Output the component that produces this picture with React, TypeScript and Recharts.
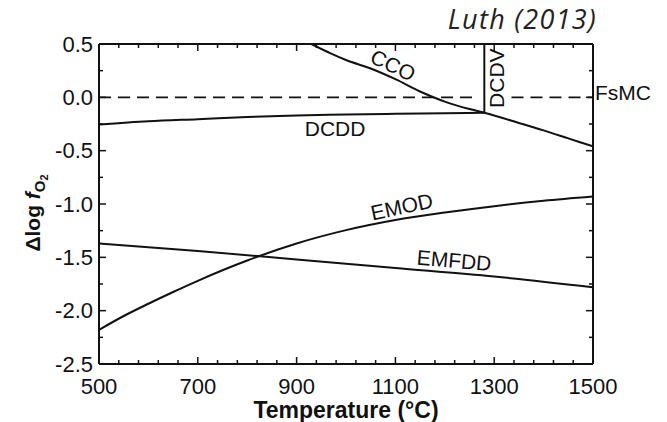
import { LineChart, Line, XAxis, YAxis, ReferenceDot } from "recharts";

const ccoT = [930, 970, 1000, 1050, 1100, 1150, 1200, 1250, 1280, 1350, 1400, 1450, 1500];
const ccoV = [0.5, 0.41, 0.35, 0.27, 0.17, 0.055, -0.04, -0.11, -0.145, -0.24, -0.31, -0.385, -0.46];

const dcddT = [500, 600, 700, 800, 900, 1000, 1100, 1200, 1280];
const dcddV = [-0.255, -0.225, -0.205, -0.185, -0.17, -0.162, -0.155, -0.15, -0.145];

const dcdvT = [1280, 1280];
const dcdvV = [-0.145, 0.5];

const fsmcLeftT = [500, 1262];
const fsmcRightT = [1335, 1500];
const fsmcV = [0, 0];

const emodT = [500, 550, 600, 650, 700, 800, 900, 1000, 1100, 1200, 1300, 1400, 1500];
const emodV = [-2.18, -2.05, -1.935, -1.825, -1.72, -1.53, -1.37, -1.245, -1.15, -1.08, -1.02, -0.97, -0.93];

const emfddT = [500, 700, 900, 1100, 1300, 1500];
const emfddV = [-1.37, -1.44, -1.52, -1.6, -1.68, -1.78];

const xTicks = [
  500, 540, 580, 620, 660, 700, 740, 780, 820, 860, 900, 940, 980, 1020, 1060,
  1100, 1140, 1180, 1220, 1260, 1300, 1340, 1380, 1420, 1460, 1500,
];
const xLabels = [500, 700, 900, 1100, 1300, 1500];
const yTicks = [0.5, 0.25, 0, -0.25, -0.5, -0.75, -1, -1.25, -1.5, -1.75, -2, -2.25, -2.5];
const yLabels = [0.5, 0, -0.5, -1, -1.5, -2, -2.5];

const FONT = "'Liberation Sans', Arial, Helvetica, sans-serif";
const INK = "#111";

const pts = (t: number[], v: number[]) => t.map((x, i) => ({ t: x, v: v[i] }));

const BottomTick = (props: any) => {
  const { x, y, payload } = props;
  const major = xLabels.includes(payload.value);
  return (
    <g>
      <line x1={x} y1={y} x2={x} y2={y - (major ? 7 : 4)} stroke={INK} strokeWidth={1.5} />
      {major && (
        <text x={x} y={y + 22} dy="0.35em" textAnchor="middle" fontFamily={FONT} fontSize={22} fill={INK}>
          {payload.value}
        </text>
      )}
    </g>
  );
};

const TopTick = (props: any) => {
  const { x, y, payload } = props;
  const major = xLabels.includes(payload.value);
  return <line x1={x} y1={y} x2={x} y2={y + (major ? 7 : 4)} stroke={INK} strokeWidth={1.5} />;
};

const LeftTick = (props: any) => {
  const { x, y, payload } = props;
  const major = yLabels.includes(payload.value);
  return (
    <g>
      <line x1={x} y1={y} x2={x + (major ? 7 : 4)} y2={y} stroke={INK} strokeWidth={1.5} />
      {major && (
        <text x={x - 6} y={y} dy="0.35em" textAnchor="end" fontFamily={FONT} fontSize={22} fill={INK}>
          {payload.value.toFixed(1)}
        </text>
      )}
    </g>
  );
};

const RightTick = (props: any) => {
  const { x, y, payload } = props;
  const major = yLabels.includes(payload.value);
  return <line x1={x} y1={y} x2={x - (major ? 7 : 4)} y2={y} stroke={INK} strokeWidth={1.5} />;
};

const curveTag =
  (text: string, angle: number, anchor = "middle", dx = 0, dy = 0) =>
  (props: any) => {
    const vb = props.viewBox ?? {};
    const cx = (vb.x ?? 0) + (vb.width ?? 0) / 2 + dx;
    const cy = (vb.y ?? 0) + (vb.height ?? 0) / 2 + dy;
    return (
      <text
        x={cx}
        y={cy}
        dy="0.35em"
        textAnchor={anchor}
        transform={`rotate(${angle} ${cx} ${cy})`}
        fontFamily={FONT}
        fontSize={21}
        fill={INK}
      >
        {text}
      </text>
    );
  };

const xTitle = (props: any) => {
  const vb = props.viewBox ?? {};
  return (
    <text
      x={vb.x + vb.width / 2}
      y={vb.y + 54}
      textAnchor="middle"
      fontFamily={FONT}
      fontWeight="bold"
      fontSize={23}
      fill={INK}
    >
      Temperature (°C)
    </text>
  );
};

const yTitle = (props: any) => {
  const vb = props.viewBox ?? {};
  const cx = vb.x + vb.width - 66;
  const cy = vb.y + vb.height / 2 + 9;
  return (
    <text
      x={cx}
      y={cy}
      dy="0.35em"
      textAnchor="middle"
      transform={`rotate(-90 ${cx} ${cy})`}
      fontFamily={FONT}
      fontWeight="bold"
      fontSize={21}
      fill={INK}
    >
      Δlog <tspan fontStyle="italic">f</tspan>
      <tspan dy={5} fontSize={15}>O</tspan>
      <tspan dy={3} fontSize={11}>2</tspan>
    </text>
  );
};

const source = (props: any) => {
  const vb = props.viewBox ?? {};
  return (
    <text
      x={vb.x + vb.width + 4}
      y={vb.y + vb.height - 15}
      textAnchor="end"
      fontFamily="'Open Sans', sans-serif"
      fontStyle="italic"
      fontSize={27}
      letterSpacing={1.3}
      fill="#222"
    >
      Luth (2013)
    </text>
  );
};

const App = () => {
  return (
    <div style={{ position: "absolute", left: 0, top: 0, background: "#fff" }}>
      <LineChart width={667} height={422} margin={{ top: 0, right: 0, bottom: 0, left: 0 }}>
        <XAxis
          dataKey="t"
          type="number"
          domain={[500, 1500]}
          ticks={xTicks}
          interval={0}
          height={58}
          tickSize={0}
          tickMargin={0}
          tickLine={false}
          tick={<BottomTick />}
          axisLine={{ stroke: INK, strokeWidth: 2 }}
          allowDataOverflow
          label={xTitle}
        />
        <XAxis
          xAxisId="top"
          orientation="top"
          dataKey="t"
          type="number"
          domain={[500, 1500]}
          ticks={xTicks}
          interval={0}
          height={44}
          tickSize={0}
          tickMargin={0}
          tickLine={false}
          tick={<TopTick />}
          axisLine={{ stroke: INK, strokeWidth: 2 }}
          allowDataOverflow
          label={source}
        />
        <YAxis
          type="number"
          domain={[-2.5, 0.5]}
          ticks={yTicks}
          interval={0}
          width={99}
          tickSize={0}
          tickMargin={0}
          tickLine={false}
          tick={<LeftTick />}
          axisLine={{ stroke: INK, strokeWidth: 2 }}
          allowDataOverflow
          label={yTitle}
        />
        <YAxis
          yAxisId="right"
          orientation="right"
          type="number"
          domain={[-2.5, 0.5]}
          ticks={yTicks}
          interval={0}
          width={74}
          tickSize={0}
          tickMargin={0}
          tickLine={false}
          tick={<RightTick />}
          axisLine={{ stroke: INK, strokeWidth: 2 }}
          allowDataOverflow
        />

        <Line data={pts(fsmcLeftT, fsmcV)} dataKey="v" type="linear" stroke={INK} strokeWidth={1.6} strokeDasharray="12 7" dot={false} isAnimationActive={false} />
        <Line data={pts(fsmcRightT, fsmcV)} dataKey="v" type="linear" stroke={INK} strokeWidth={1.6} strokeDasharray="12 7" dot={false} isAnimationActive={false} />
        <Line data={pts(ccoT, ccoV)} dataKey="v" type="monotone" stroke={INK} strokeWidth={2} dot={false} isAnimationActive={false} />
        <Line data={pts(dcddT, dcddV)} dataKey="v" type="monotone" stroke={INK} strokeWidth={2} dot={false} isAnimationActive={false} />
        <Line data={pts(dcdvT, dcdvV)} dataKey="v" type="linear" stroke={INK} strokeWidth={2} dot={false} isAnimationActive={false} />
        <Line data={pts(emodT, emodV)} dataKey="v" type="monotone" stroke={INK} strokeWidth={2} dot={false} isAnimationActive={false} />
        <Line data={pts(emfddT, emfddV)} dataKey="v" type="monotone" stroke={INK} strokeWidth={2} dot={false} isAnimationActive={false} />

        <ReferenceDot x={1095} y={0.3} r={0} fill="none" stroke="none" label={curveTag("CCO", 25)} />
        <ReferenceDot x={1304} y={0.18} r={0} fill="none" stroke="none" label={curveTag("DCDV", -90)} />
        <ReferenceDot x={1500} y={0} r={0} fill="none" stroke="none" label={curveTag("FsMC", 0, "start", 2, -5)} />
        <ReferenceDot x={978} y={-0.29} r={0} fill="none" stroke="none" label={curveTag("DCDD", 0)} />
        <ReferenceDot x={1113} y={-1.025} r={0} fill="none" stroke="none" label={curveTag("EMOD", -12)} />
        <ReferenceDot x={1219} y={-1.53} r={0} fill="none" stroke="none" label={curveTag("EMFDD", 5)} />
      </LineChart>
    </div>
  );
};

export default App;
